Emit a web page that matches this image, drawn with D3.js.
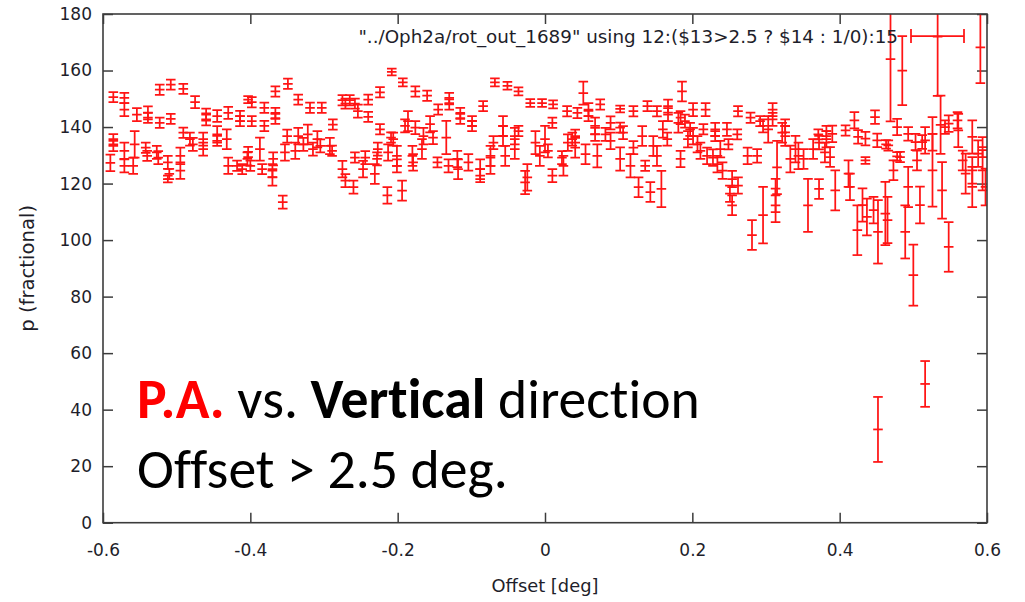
<!DOCTYPE html>
<html>
<head>
<meta charset="utf-8">
<script src="https://cdn.jsdelivr.net/npm/d3@7"></script>
<style>
  body { margin: 0; background: #fff; }
  svg { display: block; }
  .note { font-variant-ligatures: none; font-feature-settings: "liga" 0, "clig" 0; }
</style>
</head>
<body>
<svg id="chart" width="1025" height="602"></svg>
<script>
// Axis ticks
const xTicks = [-0.6, -0.4, -0.2, 0, 0.2, 0.4, 0.6];
const xTickLabels = ["-0.6", "-0.4", "-0.2", "0", "0.2", "0.4", "0.6"];
const yTicks = [0, 20, 40, 60, 80, 100, 120, 140, 160, 180];
const yTickLabels = ["0", "20", "40", "60", "80", "100", "120", "140", "160", "180"];

const xLabel = "Offset [deg]";
const yLabel = "p (fractional)";
const seriesLabel = "\"../Oph2a/rot_out_1689\" using 12:($13>2.5 ? $14 : 1/0):15";

// Offset [deg] of each measurement
const offsets = [
  // -0.6 .. -0.4
  -0.586,-0.571,-0.571,-0.554,-0.539,-0.539,-0.523,-0.523,-0.508,-0.508,
  -0.491,-0.491,-0.475,-0.482,-0.478,-0.460,-0.460,-0.464,-0.464,-0.445,
  -0.445,-0.445,-0.430,-0.432,-0.414,-0.414,-0.403,-0.403,-0.586,-0.586,
  -0.590,-0.571,-0.571,-0.557,-0.559,-0.542,-0.540,-0.527,-0.525,-0.512,
  -0.510,-0.512,-0.495,-0.495,-0.430,-0.418,-0.411,-0.404,
  // -0.4 .. -0.2
  -0.349,-0.366,-0.398,-0.381,-0.366,-0.366,-0.335,-0.319,-0.303,-0.288,
  -0.398,-0.381,-0.275,-0.271,-0.265,-0.258,-0.240,-0.224,-0.254,-0.240,
  -0.224,-0.209,-0.208,-0.350,-0.335,-0.322,-0.328,-0.309,-0.305,-0.292,
  -0.289,-0.315,-0.353,-0.339,-0.387,-0.369,-0.400,-0.384,-0.370,-0.370,
  -0.275,-0.271,-0.260,-0.258,-0.244,-0.247,-0.228,-0.231,-0.227,-0.213,
  -0.214,-0.356,
  // -0.2 .. 0
  -0.193,-0.176,-0.160,-0.130,-0.130,-0.145,-0.115,-0.115,-0.084,-0.099,
  -0.099,-0.068,-0.051,-0.036,-0.020,-0.186,-0.190,-0.176,-0.156,-0.165,
  -0.152,-0.134,-0.206,-0.201,-0.201,-0.180,-0.179,-0.167,-0.146,-0.131,
  -0.119,-0.118,-0.104,-0.088,-0.088,-0.074,-0.074,-0.070,-0.057,-0.054,
  -0.057,-0.041,-0.041,-0.036,-0.024,-0.027,-0.013,-0.194,
  // 0 .. 0.19
  0.052,-0.004,0.011,0.030,0.044,0.059,0.059,0.075,0.102,0.120,
  0.139,0.152,0.167,0.167,0.186,0.184,0.010,0.000,-0.007,0.004,
  0.023,0.025,0.010,0.037,0.041,0.031,0.041,0.055,0.071,0.068,
  0.068,0.082,0.089,0.089,0.102,0.106,0.102,0.116,0.120,0.132,
  0.136,0.147,0.152,0.160,0.166,0.181,0.184,0.127,0.143,0.158,
  // 0.19 .. 0.385
  0.201,0.218,0.262,0.279,0.292,0.309,0.309,0.326,0.371,0.382,
  0.190,0.197,0.201,0.215,0.231,0.231,0.247,0.261,0.249,0.296,
  0.303,0.322,0.326,0.194,0.207,0.211,0.220,0.228,0.234,0.241,
  0.254,0.262,0.251,0.254,0.238,0.275,0.288,0.281,0.296,0.313,
  0.313,0.315,0.333,0.340,0.344,0.351,0.357,0.364,0.372,0.372,
  0.380,0.382,
  // 0.385 .. 0.6
  0.424,0.437,0.452,0.465,0.489,0.500,0.509,0.548,0.539,0.526,
  0.493,0.473,0.466,0.463,0.482,0.478,0.435,0.448,0.420,0.408,
  0.425,0.435,0.451,0.390,0.387,0.394,0.412,0.414,0.431,0.446,
  0.462,0.503,0.512,0.505,0.516,0.526,0.543,0.548,0.560,0.561,
  0.567,0.571,0.580,0.580,0.580,0.588,0.594,0.594,0.598,0.493,
  0.478,0.469,0.485,0.533,0.537,0.591,0.452,0.516
];

// p value at each offset
const pValues = [
  150.6,150.3,146.2,144.4,145.0,143.3,153.2,141.5,155.0,142.9,
  153.5,138.0,148.8,135.7,133.9,144.4,142.7,135.7,132.2,143.9,
  137.4,135.1,145.0,135.7,143.9,142.1,149.7,131.2,135.7,133.3,
  127.3,131.6,126.3,133.9,126.3,132.7,129.8,131.0,129.2,127.5,
  123.4,121.6,129.8,124.6,126.3,126.3,125.1,128.7,

  155.3,152.6,148.8,146.8,145.0,142.9,149.7,146.8,146.8,140.9,
  142.1,140.4,149.5,148.3,149.5,148.3,149.7,152.3,145.6,143.6,
  139.2,136.3,159.5,136.8,136.8,137.4,133.9,135.7,133.3,133.3,
  131.6,132.2,131.0,131.6,132.2,128.7,126.3,125.1,124.6,122.2,
  125.1,121.0,118.7,129.2,129.2,125.1,128.7,123.4,132.2,131.0,
  115.8,113.4,

  155.8,152.6,151.1,150.3,148.0,146.2,145.0,142.9,147.4,142.1,
  140.4,155.8,154.6,152.6,148.5,142.1,140.4,139.8,141.0,136.8,
  136.3,136.3,135.7,129.8,126.3,129.8,127.5,132.2,127.5,126.3,
  128.7,125.1,127.5,125.1,122.8,129.8,126.3,134.5,140.4,129.8,
  136.8,136.8,132.2,138.6,122.2,120.4,134.5,117.5,

  152.0,148.5,148.0,145.6,145.0,146.2,143.9,148.0,146.4,145.6,
  147.4,145.6,147.4,144.4,152.6,143.3,141.5,135.7,129.8,131.6,
  129.2,126.3,122.8,135.7,136.8,134.5,132.7,130.4,129.8,140.4,
  137.4,137.4,141.5,135.1,139.8,138.0,128.7,126.3,132.7,136.8,
  126.3,133.3,129.8,139.2,135.7,141.5,128.7,118.7,117.0,118.1,

  146.2,146.2,145.6,143.3,142.1,146.2,142.7,140.4,137.4,138.6,
  142.1,139.2,136.8,139.2,139.2,136.8,139.2,137.4,133.9,140.4,
  139.2,138.0,136.8,135.7,133.9,131.6,129.8,129.2,126.9,124.6,
  121.6,119.3,116.4,112.3,132.2,129.8,129.8,101.8,108.8,115.8,
  112.3,125.7,128.7,132.2,129.8,128.7,112.3,132.2,118.1,134.5,
  131.0,135.7,

  103.5,108.2,102.9,107.1,102.9,87.6,112.4,97.6,117.6,124.7,
  118.8,124.7,133.5,133.9,129.4,129.6,128.2,143.5,142.4,138.8,
  136.5,135.9,135.3,137.6,129.4,117.6,123.5,118.8,112.4,110.6,
  109.4,134.7,134.7,128.2,135.3,137.6,140.0,141.2,142.4,138.8,
  128.2,123.5,136.5,124.7,118.8,130.6,132.9,124.7,118.8,137.6,
  140.0,164.0,160.0,172.0,140.8,168.2,33.0,49.1
];

// Uncertainty of each p value
const pErrors = [
  1.8,1.8,2.3,2.3,2.3,1.8,1.8,1.8,1.8,1.8,
  1.8,1.8,2.1,2.3,2.3,2.1,2.1,2.3,2.3,2.1,
  2.9,1.8,2.1,3.5,1.8,1.8,1.2,1.8,1.8,1.8,
  2.9,2.9,2.3,4.7,2.9,1.8,1.8,2.3,2.3,2.3,
  1.8,1.2,2.9,2.9,2.9,1.8,1.8,2.3,

  1.8,1.8,1.8,1.8,1.8,1.8,1.8,1.8,1.8,1.8,
  1.8,1.8,1.8,1.8,1.8,1.8,1.8,1.8,2.3,1.8,
  1.8,1.8,1.2,2.3,2.9,3.5,2.3,2.9,2.3,2.9,
  1.8,2.3,2.9,2.9,4.1,2.3,1.8,1.8,2.3,2.9,
  2.9,2.3,2.3,1.8,2.3,2.9,2.3,3.5,2.3,2.9,
  2.9,2.3,

  1.4,1.8,1.8,1.8,1.8,1.8,1.8,1.8,1.8,1.8,
  1.8,1.4,1.4,1.4,1.4,3.5,2.3,2.3,2.9,2.9,
  2.3,5.9,2.3,3.5,2.3,3.5,2.9,3.5,1.8,2.3,
  2.9,3.5,2.9,3.5,2.3,3.5,2.9,2.3,3.5,3.5,
  3.5,2.9,3.5,1.8,4.7,4.1,4.1,3.5,

  4.1,1.4,1.4,1.8,1.8,2.3,1.8,1.8,1.2,1.8,
  1.8,1.8,2.3,2.3,3.5,2.3,1.8,4.7,3.5,2.3,
  2.3,3.5,2.3,2.3,2.3,2.9,3.5,3.5,4.1,2.9,
  2.3,2.3,2.3,2.9,1.8,2.3,4.1,4.1,2.3,3.5,
  1.8,3.5,3.5,2.9,2.3,3.5,2.9,3.5,3.5,6.4,

  2.3,2.3,1.8,1.8,1.8,2.3,2.3,2.3,1.8,1.8,
  2.3,2.3,2.9,1.8,2.3,1.8,2.3,1.8,1.8,2.3,
  4.7,3.5,3.5,2.9,2.9,2.9,2.9,2.9,2.9,2.9,
  2.9,2.9,2.9,3.5,2.9,2.9,2.4,5.3,10.0,5.9,
  5.9,9.4,4.7,4.7,4.7,3.5,9.4,3.5,3.5,2.4,
  3.5,2.9,

  8.8,6.5,11.2,8.2,9.4,10.8,6.5,8.8,10.0,12.9,
  7.1,3.5,1.8,1.5,1.8,1.5,1.2,2.4,2.9,1.8,
  2.4,2.4,2.4,2.9,3.5,7.1,4.7,4.7,5.9,4.7,
  11.2,2.9,2.4,3.5,4.7,5.9,2.4,2.9,2.9,5.9,
  3.5,7.1,5.9,4.7,7.1,4.7,3.5,7.1,6.5,2.4,
  2.9,22.0,12.2,21.0,10.3,12.7,11.5,8.1
];

const svg = d3.select("#chart");
const W = 1025, H = 602;
const plot = { left: 103, right: 987, top: 14, bottom: 522.7 };

const x = d3.scaleLinear().domain([-0.6, 0.6]).range([plot.left, plot.right]);
const y = d3.scaleLinear().domain([0, 180]).range([plot.bottom, plot.top]);

const frameColor = "#3c3c3c";
const textColor = "#1e1e2a";
const tickFont = "'DejaVu Sans', Verdana, sans-serif";
const barColor = "#ff1414";

svg.append("rect").attr("width", W).attr("height", H).attr("fill", "#fff");

// clip for the data
svg.append("defs").append("clipPath").attr("id", "plotClip")
  .append("rect")
  .attr("x", plot.left).attr("y", plot.top)
  .attr("width", plot.right - plot.left).attr("height", plot.bottom - plot.top);

// Axes (inward ticks, mirrored on top and right)
const tickLen = 10;
const styleAxis = g => {
  g.select(".domain").remove();
  g.selectAll(".tick line").attr("stroke", frameColor).attr("stroke-width", 1.5);
  g.selectAll(".tick text").attr("fill", textColor)
    .style("font-family", tickFont).style("font-size", "17px");
};

svg.append("g")
  .attr("transform", `translate(0,${plot.bottom})`)
  .call(d3.axisBottom(x).tickValues(xTicks)
    .tickFormat((d, i) => xTickLabels[i])
    .tickSizeInner(-tickLen).tickSizeOuter(0).tickPadding(21))
  .call(styleAxis);

svg.append("g")
  .attr("transform", `translate(0,${plot.top})`)
  .call(d3.axisTop(x).tickValues(xTicks).tickFormat("")
    .tickSizeInner(-tickLen).tickSizeOuter(0))
  .call(styleAxis);

svg.append("g")
  .attr("transform", `translate(${plot.left},0)`)
  .call(d3.axisLeft(y).tickValues(yTicks)
    .tickFormat((d, i) => yTickLabels[i])
    .tickSizeInner(-tickLen).tickSizeOuter(0).tickPadding(11))
  .call(styleAxis);

svg.append("g")
  .attr("transform", `translate(${plot.right},0)`)
  .call(d3.axisRight(y).tickValues(yTicks).tickFormat("")
    .tickSizeInner(-tickLen).tickSizeOuter(0))
  .call(styleAxis);

// Error bars
const cap = 4.8;
const bars = svg.append("g")
  .attr("clip-path", "url(#plotClip)")
  .attr("stroke", barColor)
  .attr("stroke-width", 1.75)
  .attr("fill", "none");

offsets.forEach((off, i) => {
  const cx = x(off);
  const lo = y(pValues[i] - pErrors[i]);
  const hi = y(pValues[i] + pErrors[i]);
  const cy = y(pValues[i]);
  const g = bars.append("g");
  g.append("line").attr("x1", cx).attr("x2", cx).attr("y1", lo).attr("y2", hi);
  g.append("line").attr("x1", cx - cap).attr("x2", cx + cap).attr("y1", lo).attr("y2", lo);
  g.append("line").attr("x1", cx - cap).attr("x2", cx + cap).attr("y1", hi).attr("y2", hi);
  g.append("line").attr("x1", cx - cap).attr("x2", cx + cap).attr("y1", cy).attr("y2", cy);
});

// Frame
svg.append("rect")
  .attr("x", plot.left).attr("y", plot.top)
  .attr("width", plot.right - plot.left).attr("height", plot.bottom - plot.top)
  .attr("fill", "none").attr("stroke", frameColor).attr("stroke-width", 1.6);

// Fit helper: scale the font so the text spans a given width
function fitWidth(sel, target) {
  const base = parseFloat(sel.style("font-size"));
  const len = sel.node().getComputedTextLength();
  if (len > 0) sel.style("font-size", (base * target / len) + "px");
}

// Key
const key = svg.append("text")
  .attr("x", 898).attr("y", 43)
  .attr("text-anchor", "end")
  .attr("fill", textColor)
  .style("font-family", tickFont).style("font-size", "16px")
  .text(seriesLabel);
fitWidth(key, 540);

const keyY = 36, keyX0 = 911, keyX1 = 964;
const keyG = svg.append("g").attr("stroke", barColor).attr("stroke-width", 1.75);
keyG.append("line").attr("x1", keyX0).attr("x2", keyX1).attr("y1", keyY).attr("y2", keyY);
keyG.append("line").attr("x1", keyX0).attr("x2", keyX0).attr("y1", keyY - 7).attr("y2", keyY + 7);
keyG.append("line").attr("x1", keyX1).attr("x2", keyX1).attr("y1", keyY - 7).attr("y2", keyY + 7);

// Axis titles
const xt = svg.append("text")
  .attr("x", (plot.left + plot.right) / 2).attr("y", 592)
  .attr("text-anchor", "middle").attr("fill", textColor)
  .style("font-family", tickFont).style("font-size", "16.5px")
  .text(xLabel);
fitWidth(xt, 107);

const yt = svg.append("text")
  .attr("transform", `translate(34,${(plot.top + plot.bottom) / 2}) rotate(-90)`)
  .attr("text-anchor", "middle").attr("fill", textColor)
  .style("font-family", tickFont).style("font-size", "16.5px")
  .text(yLabel);
fitWidth(yt, 127);

// Annotation
const noteFont = "Carlito, Calibri, Lato, 'Open Sans', sans-serif";
const line1 = svg.append("text")
  .attr("class", "note")
  .attr("x", 137).attr("y", 418)
  .attr("fill", "#000")
  .style("font-family", noteFont).style("font-size", "48px");
line1.append("tspan").attr("fill", "#ff0000").attr("font-weight", "bold").text("P.A.");
line1.append("tspan").text(" vs. ");
line1.append("tspan").attr("font-weight", "bold").text("Vertical");
line1.append("tspan").text(" direction");
fitWidth(line1, 563);

const line2 = svg.append("text")
  .attr("class", "note")
  .attr("x", 137).attr("y", 488)
  .attr("fill", "#000")
  .style("font-family", noteFont).style("font-size", "48px")
  .text("Offset > 2.5 deg.");
fitWidth(line2, 371);
</script>
</body>
</html>
